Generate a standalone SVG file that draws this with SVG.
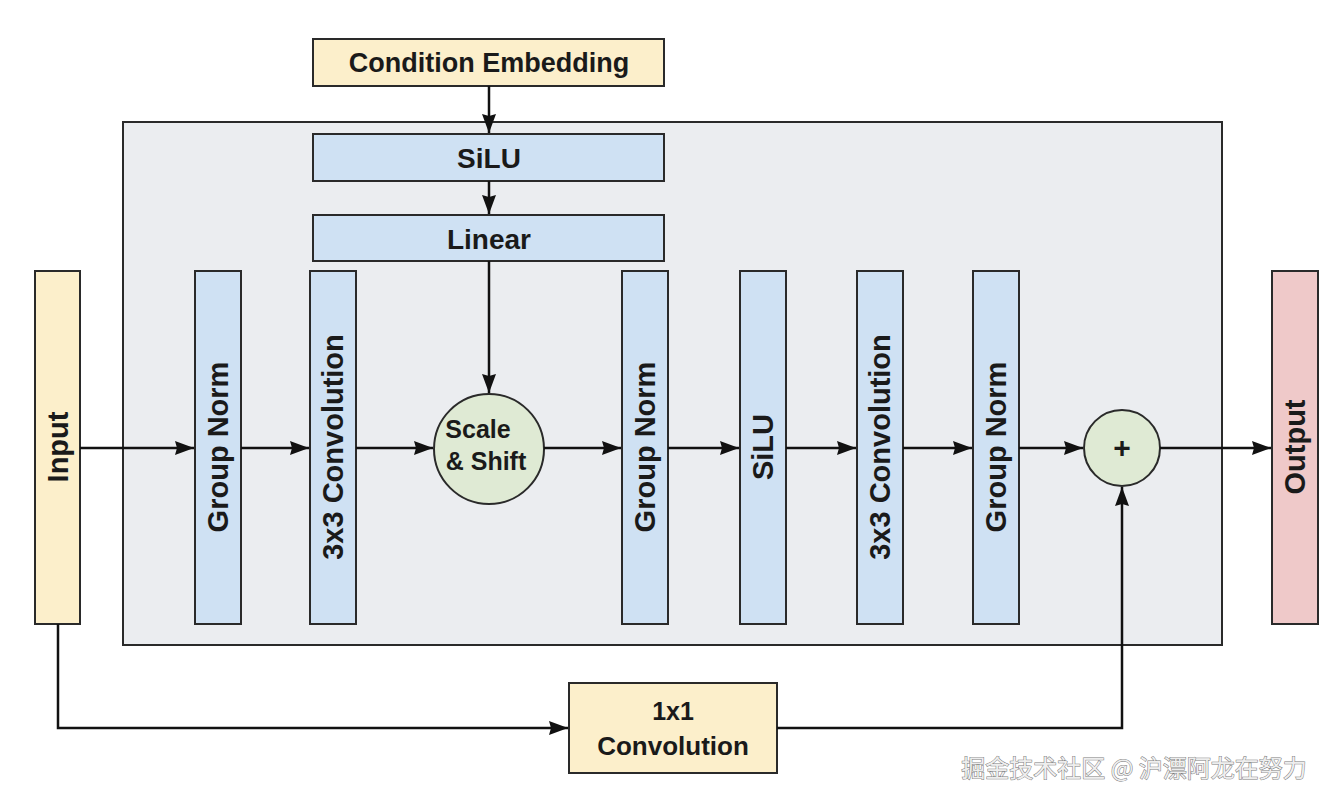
<svg xmlns="http://www.w3.org/2000/svg" width="1338" height="804" viewBox="0 0 1338 804">
<style>
.bx{stroke:#2a2a2a;stroke-width:2}
.yel{fill:#fcefcb}
.blu{fill:#cfe1f3}
.grn{fill:#dfead4}
.pnk{fill:#efc9c9}
.t{font-family:"Liberation Sans",Arial,sans-serif;font-weight:bold;fill:#1a1a1a;text-anchor:middle}
.vt{font-size:29px;dominant-baseline:central}
.ln{fill:none;stroke:#111;stroke-width:2.5}
.wm{font-family:"Noto Sans CJK SC",sans-serif;font-size:24px;fill:#eeeeee;stroke:#7a7a7a;stroke-width:1;paint-order:stroke}
</style>
<defs>
<marker id="ah" markerWidth="20" markerHeight="16" refX="19" refY="8" orient="auto" markerUnits="userSpaceOnUse">
<path d="M0,1 L19,8 L0,15 L2,8 Z" fill="#111"/>
</marker>
</defs>
<rect width="1338" height="804" fill="#ffffff"/>
<g id="block">
<rect x="123" y="122" width="1099" height="523" fill="#ebedf0" class="bx"/>
</g>
<g id="cond">
<rect x="313" y="39" width="351" height="47" class="bx yel"/>
<text x="489" y="72" class="t" font-size="27">Condition Embedding</text>
</g>
<g id="silu_top">
<rect x="313" y="134" width="351" height="47" class="bx blu"/>
<text x="489" y="168" class="t" font-size="28">SiLU</text>
</g>
<g id="linear">
<rect x="313" y="215" width="351" height="46" class="bx blu"/>
<text x="489" y="249" class="t" font-size="28">Linear</text>
</g>
<g id="input">
<rect x="35" y="271" width="45" height="353" class="bx yel"/>
<text transform="translate(58,447) rotate(-90)" class="t vt">Input</text>
</g>
<g id="gn1">
<rect x="195" y="271" width="46" height="353" class="bx blu"/>
<text transform="translate(218,447) rotate(-90)" class="t vt">Group Norm</text>
</g>
<g id="conv1">
<rect x="310" y="271" width="46" height="353" class="bx blu"/>
<text transform="translate(333,447) rotate(-90)" class="t vt">3x3 Convolution</text>
</g>
<g id="scaleshift">
<circle cx="489" cy="449" r="55" class="bx grn"/>
<text x="478" y="438" class="t" font-size="25">Scale</text>
<text x="486" y="470" class="t" font-size="25">&amp; Shift</text>
</g>
<g id="gn2">
<rect x="622" y="271" width="46" height="353" class="bx blu"/>
<text transform="translate(645,447) rotate(-90)" class="t vt">Group Norm</text>
</g>
<g id="silu">
<rect x="740" y="271" width="46" height="353" class="bx blu"/>
<text transform="translate(763,447) rotate(-90)" class="t vt">SiLU</text>
</g>
<g id="conv2">
<rect x="857" y="271" width="46" height="353" class="bx blu"/>
<text transform="translate(880,447) rotate(-90)" class="t vt">3x3 Convolution</text>
</g>
<g id="gn3">
<rect x="973" y="271" width="46" height="353" class="bx blu"/>
<text transform="translate(996,447) rotate(-90)" class="t vt">Group Norm</text>
</g>
<g id="plus">
<circle cx="1122" cy="448" r="38" class="bx grn"/>
<text x="1122" y="458" class="t" font-size="30">+</text>
</g>
<g id="output">
<rect x="1272" y="271" width="46" height="353" class="bx pnk"/>
<text transform="translate(1295,447) rotate(-90)" class="t vt">Output</text>
</g>
<g id="conv1x1">
<rect x="569" y="683" width="208" height="90" class="bx yel"/>
<text x="673" y="720" class="t" font-size="25">1x1</text>
<text x="673" y="755" class="t" font-size="26">Convolution</text>
</g>
<g id="connectors">
<path class="ln" d="M489,86 V133" marker-end="url(#ah)"/>
<path class="ln" d="M489,181 V214" marker-end="url(#ah)"/>
<path class="ln" d="M489,261 V393" marker-end="url(#ah)"/>
<path class="ln" d="M80,448 H194" marker-end="url(#ah)"/>
<path class="ln" d="M241,448 H309" marker-end="url(#ah)"/>
<path class="ln" d="M356,448 H433" marker-end="url(#ah)"/>
<path class="ln" d="M544,448 H621" marker-end="url(#ah)"/>
<path class="ln" d="M668,448 H739" marker-end="url(#ah)"/>
<path class="ln" d="M786,448 H856" marker-end="url(#ah)"/>
<path class="ln" d="M903,448 H972" marker-end="url(#ah)"/>
<path class="ln" d="M1019,448 H1083" marker-end="url(#ah)"/>
<path class="ln" d="M1160,448 H1271" marker-end="url(#ah)"/>
<path class="ln" d="M58,624 V728 H568" marker-end="url(#ah)"/>
<path class="ln" d="M777,728 H1122 V487" marker-end="url(#ah)"/>
</g>
<text x="1134" y="777" class="wm" text-anchor="middle" font-size="25">掘金技术社区 @ 沪漂阿龙在努力</text>
</svg>
